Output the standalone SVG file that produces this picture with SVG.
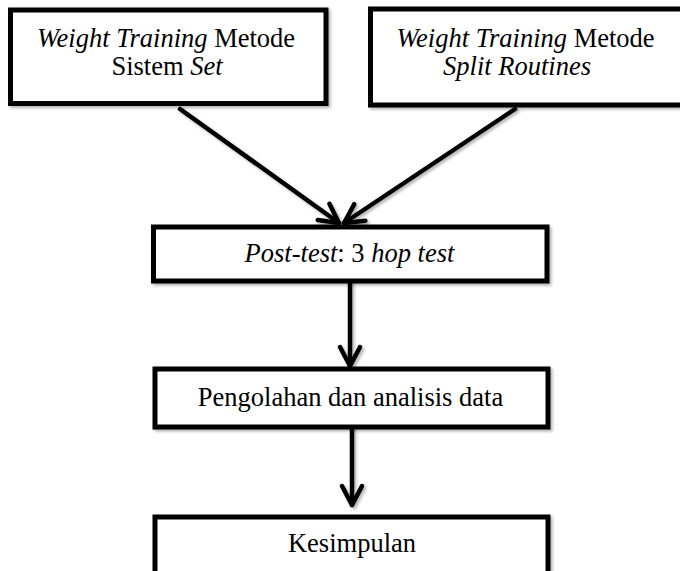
<svg xmlns="http://www.w3.org/2000/svg" width="680" height="571" viewBox="0 0 680 571">
<style>
.box{fill:#fff;stroke:#000;stroke-width:5}
.t{font-family:"Liberation Serif","Times New Roman",serif;font-size:26.5px;fill:#000;text-anchor:middle}
.i{font-style:italic}
.c{fill:none;stroke:#000;stroke-width:4.5;stroke-linecap:round}
</style>
<defs>
<filter id="sh" x="-20%" y="-20%" width="140%" height="140%">
<feDropShadow dx="2" dy="2" stdDeviation="1.5" flood-color="#000" flood-opacity="0.3"/>
</filter>
<marker id="ah" markerUnits="userSpaceOnUse" viewBox="-24 -14 28 28" markerWidth="28" markerHeight="28" refX="0" refY="0" orient="auto">
<path d="M-19,-10 L0,0 L-19,10" fill="none" stroke="#000" stroke-width="4.5" stroke-linecap="round" stroke-linejoin="round"/>
</marker>
</defs>
<rect width="680" height="571" fill="#fff"/>
<g id="connectors" filter="url(#sh)">
<line class="c" x1="180" y1="109" x2="339" y2="223" marker-end="url(#ah)"/>
<line class="c" x1="515" y1="109" x2="344" y2="223" marker-end="url(#ah)"/>
<line class="c" x1="350" y1="282" x2="350" y2="366" marker-end="url(#ah)"/>
<line class="c" x1="352" y1="428" x2="352" y2="505" marker-end="url(#ah)"/>
</g>
<g id="n1">
<rect class="box" x="10.5" y="10" width="315.5" height="93.5" filter="url(#sh)"/>
<text class="t" x="166" y="47"><tspan class="i">Weight Training</tspan> Metode</text>
<text class="t" x="167" y="75">Sistem <tspan class="i">Set</tspan></text>
</g>
<g id="n2">
<rect class="box" x="370.5" y="9" width="312" height="96" filter="url(#sh)"/>
<text class="t" x="525.5" y="47"><tspan class="i">Weight Training</tspan> Metode</text>
<text class="t i" x="517" y="75">Split Routines</text>
</g>
<g id="n3">
<rect class="box" x="153.5" y="227" width="393.5" height="54" filter="url(#sh)"/>
<text class="t" x="349.5" y="262"><tspan class="i">Post-test</tspan>: 3 <tspan class="i">hop test</tspan></text>
</g>
<g id="n4">
<rect class="box" x="155" y="369" width="393" height="58" filter="url(#sh)"/>
<text class="t" x="350.5" y="406">Pengolahan dan analisis data</text>
</g>
<g id="n5">
<rect class="box" x="155" y="517" width="393" height="70" filter="url(#sh)"/>
<text class="t" x="352" y="552">Kesimpulan</text>
</g>
</svg>
